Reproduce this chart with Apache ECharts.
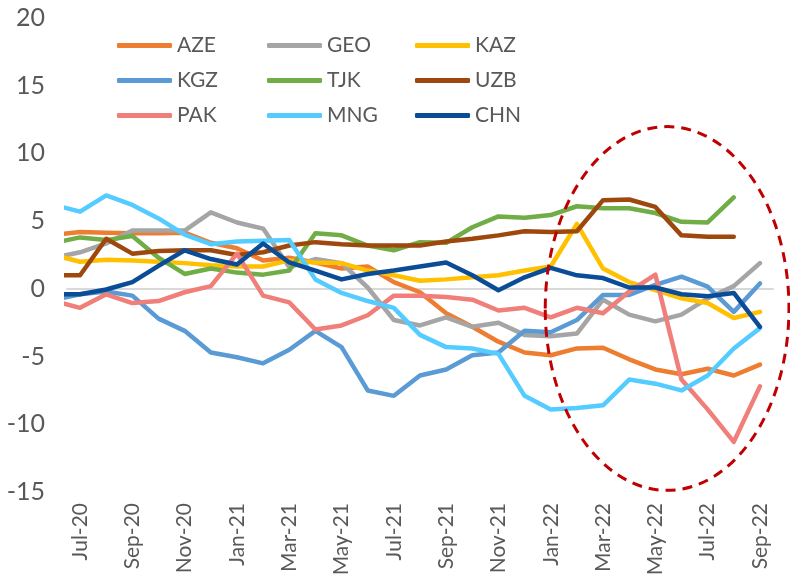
<!DOCTYPE html>
<html>
<head>
<meta charset="utf-8">
<title>chart</title>
<script src="https://cdn.jsdelivr.net/npm/echarts@6/dist/echarts.min.js"></script>
<style>
  html, body { margin: 0; padding: 0; background: #fff; }
  #main { width: 790px; height: 577px; }
</style>
</head>
<body>
<div id="main"></div>
<script>
  // months Jun-20 .. Sep-22 (Jun-20 sits just outside the plot, only its segment shows)
  var months = ['Jun-20', 'Jul-20', 'Aug-20', 'Sep-20', 'Oct-20', 'Nov-20', 'Dec-20', 'Jan-21', 'Feb-21', 'Mar-21',
    'Apr-21', 'May-21', 'Jun-21', 'Jul-21', 'Aug-21', 'Sep-21', 'Oct-21', 'Nov-21', 'Dec-21', 'Jan-22',
    'Feb-22', 'Mar-22', 'Apr-22', 'May-22', 'Jun-22', 'Jul-22', 'Aug-22', 'Sep-22'];
  var axisMonths = months.slice(1);

  var aze = [4.0, 4.2, 4.15, 4.1, 4.1, 4.15, 3.4, 3.0, 2.1, 2.3, 1.95, 1.5, 1.65, 0.5, -0.25, -1.8, -2.8, -3.9, -4.7, -4.9, -4.4, -4.35, -5.2, -5.95, -6.3, -5.9, -6.4, -5.6];
  var geo = [2.3, 2.7, 3.35, 4.3, 4.3, 4.3, 5.65, 4.9, 4.45, 1.6, 2.2, 1.9, 0.1, -2.3, -2.7, -2.1, -2.8, -2.5, -3.4, -3.5, -3.3, -0.8, -1.9, -2.4, -1.9, -0.7, 0.2, 1.9];
  var kaz = [2.5, 2.0, 2.15, 2.1, 2.0, 1.9, 1.75, 1.65, 1.65, 2.1, 1.95, 1.9, 1.35, 1.0, 0.6, 0.7, 0.85, 1.0, 1.35, 1.65, 4.8, 1.5, 0.5, -0.1, -0.7, -1.05, -2.15, -1.7];
  var kgz = [-0.8, -0.4, -0.2, -0.5, -2.2, -3.1, -4.7, -5.05, -5.5, -4.5, -3.1, -4.3, -7.5, -7.9, -6.4, -5.95, -4.9, -4.7, -3.1, -3.2, -2.3, -0.45, -0.45, 0.3, 0.9, 0.17, -1.7, 0.4];
  var tjk = [3.4, 3.8, 3.6, 3.9, 2.3, 1.1, 1.5, 1.2, 1.05, 1.35, 4.1, 3.95, 3.2, 2.85, 3.45, 3.4, 4.55, 5.35, 5.25, 5.45, 6.1, 5.95, 5.95, 5.6, 4.95, 4.9, 6.75, null];
  var uzb = [1.0, 1.0, 3.7, 2.6, 2.8, 2.85, 2.85, 2.5, 2.7, 3.2, 3.45, 3.3, 3.2, 3.2, 3.2, 3.5, 3.7, 3.95, 4.25, 4.2, 4.25, 6.55, 6.6, 6.05, 3.95, 3.85, 3.85, null];
  var pak = [-0.9, -1.4, -0.4, -1.05, -0.9, -0.25, 0.2, 2.6, -0.5, -1.0, -3.0, -2.7, -1.95, -0.5, -0.5, -0.6, -0.8, -1.6, -1.4, -2.1, -1.4, -1.8, -0.2, 1.05, -6.7, -8.9, -11.3, -7.2];
  var mng = [6.2, 5.7, 6.9, 6.2, 5.2, 4.0, 3.3, 3.5, 3.55, 3.6, 0.7, -0.3, -0.9, -1.4, -3.4, -4.3, -4.4, -4.8, -7.9, -8.9, -8.8, -8.6, -6.7, -7.0, -7.5, -6.4, -4.4, -2.9];
  var chn = [-0.4, -0.4, -0.05, 0.5, 1.7, 2.85, 2.2, 1.8, 3.35, 1.95, 1.35, 0.7, 1.1, 1.35, 1.65, 1.95, 1.0, -0.1, 0.85, 1.55, 1.0, 0.8, 0.1, 0.1, -0.4, -0.55, -0.3, -2.8];

  var names = ['AZE', 'GEO', 'KAZ', 'KGZ', 'TJK', 'UZB', 'PAK', 'MNG', 'CHN'];
  var values = [aze, geo, kaz, kgz, tjk, uzb, pak, mng, chn];
  var colors = ['#ed7d31', '#a5a5a5', '#ffc000', '#5b9bd5', '#70ad47', '#9e480e', '#f07f7a', '#55ccff', '#0a4d96'];

  var textColor = '#595959';
  var font = 'Lato, "Noto Sans", sans-serif';

  var myChart = echarts.init(document.getElementById('main'));

  // index -1 = Jun-20, 0 = Jul-20 ... 26 = Sep-22
  function toPoints(arr) {
    var out = [];
    arr.forEach(function (v, k) {
      out.push([k - 1, v]);
    });
    return out;
  }

  var series = names.map(function (n, k) {
    return {
      name: n,
      type: 'line',
      xAxisIndex: 1,
      yAxisIndex: 0,
      data: toPoints(values[k]),
      symbol: 'none',
      clip: true,
      lineStyle: { width: 4.5, color: colors[k], cap: 'round', join: 'round' },
      itemStyle: { color: colors[k] }
    };
  });

  function legendCol(left, list) {
    return {
      orient: 'vertical',
      left: left,
      top: 35,
      padding: 0,
      itemWidth: 55,
      itemHeight: 5,
      itemGap: 14,
      icon: 'roundRect',
      selectedMode: false,
      data: list,
      textStyle: { color: textColor, fontSize: 21, fontFamily: font, lineHeight: 20 }
    };
  }

  var option = {
    animation: false,
    backgroundColor: '#fff',
    legend: [
      legendCol(117, ['AZE', 'KGZ', 'PAK']),
      legendCol(267, ['GEO', 'TJK', 'MNG']),
      legendCol(415, ['KAZ', 'UZB', 'CHN'])
    ],
    grid: {
      left: 67,
      right: 17,
      top: 18,
      bottom: 85,
      containLabel: false,
      outerBoundsMode: 'none'
    },
    xAxis: [{
      // labels only
      type: 'category',
      data: axisMonths,
      boundaryGap: true,
      position: 'bottom',
      axisLine: { show: false, onZero: false },
      axisTick: { show: false },
      splitLine: { show: false },
      axisLabel: {
        interval: 1,
        rotate: 90,
        margin: 11,
        color: textColor,
        fontSize: 21,
        fontFamily: font
      }
    }, {
      // data axis, draws the zero line
      type: 'value',
      min: -0.5,
      max: 26.5,
      position: 'top',
      axisLine: { show: true, onZero: true, lineStyle: { color: '#d9d9d9', width: 2 } },
      axisTick: { show: false },
      axisLabel: { show: false },
      splitLine: { show: false }
    }],
    yAxis: {
      type: 'value',
      min: -15,
      max: 20,
      interval: 5,
      axisLine: { show: false },
      axisTick: { show: false },
      splitLine: { show: false },
      axisLabel: {
        margin: 22,
        color: textColor,
        fontSize: 25,
        fontFamily: font
      }
    },
    series: series
  };

  myChart.setOption(option);

  // dashed red ring around the last months
  var c = myChart.convertToPixel({ seriesIndex: 0 }, [22.45, -1.45]);
  var ex = myChart.convertToPixel({ seriesIndex: 0 }, [22.45 + 4.66, -1.45]);
  var ey = myChart.convertToPixel({ seriesIndex: 0 }, [22.45, -1.45 + 13.43]);
  myChart.setOption({
    graphic: [{
      type: 'ellipse',
      shape: { cx: c[0], cy: c[1], rx: Math.abs(ex[0] - c[0]), ry: Math.abs(c[1] - ey[1]) },
      style: { fill: null, stroke: '#c00000', lineWidth: 3, lineDash: [10, 7] },
      z: 10,
      silent: true
    }]
  });
</script>
</body>
</html>
